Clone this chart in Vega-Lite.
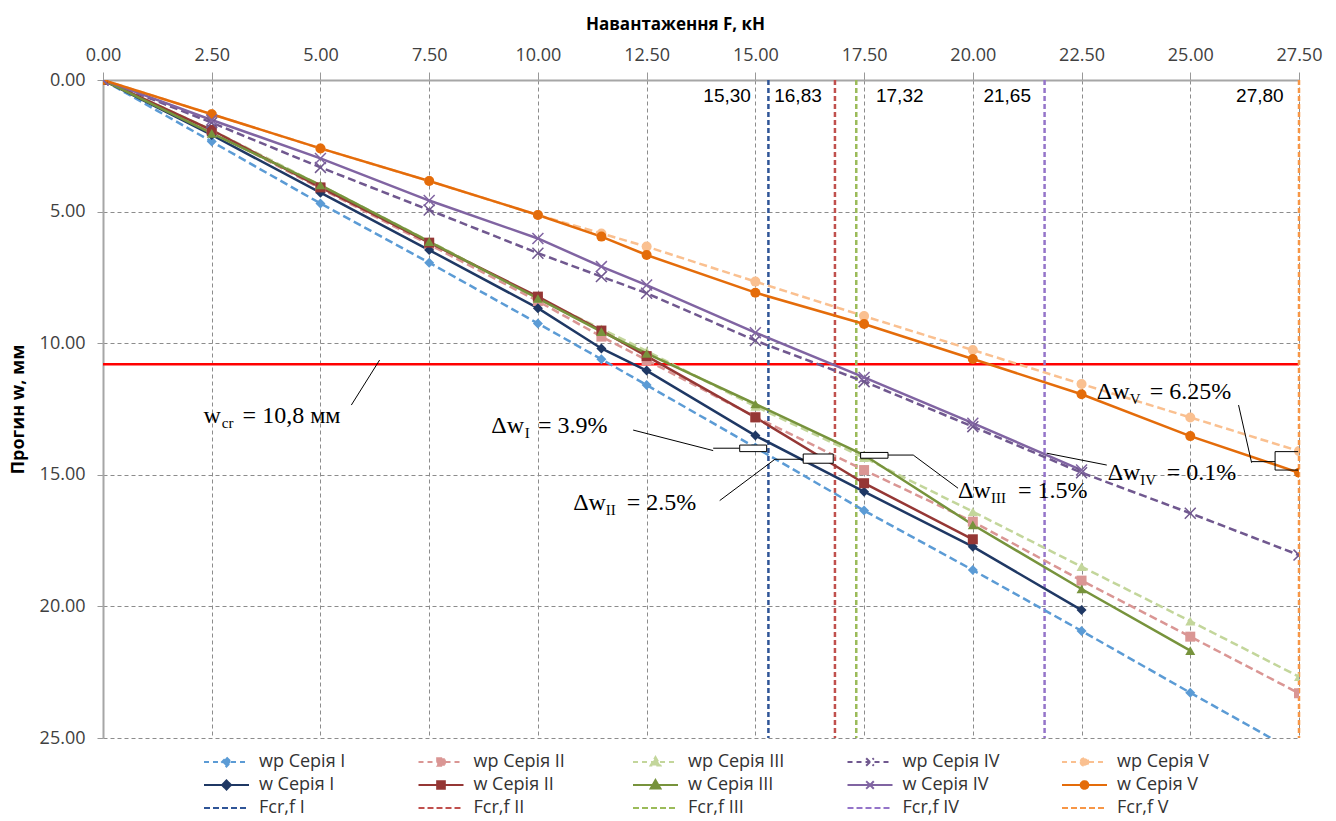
{
  "$schema": "https://vega.github.io/schema/vega-lite/v6.json",
  "width": 1196,
  "height": 658,
  "autosize": {"type": "none"},
  "padding": {"left": 103, "top": 80, "right": 37, "bottom": 83},
  "background": "white",
  "config": {"view": {"stroke": null}, "font": "Open Sans"},
  "datasets": {
    "wcr": [{"w": 10.8}],
    "fcr": [
      {"series": "Fcr,f I", "F": 15.30},
      {"series": "Fcr,f II", "F": 16.83},
      {"series": "Fcr,f III", "F": 17.32},
      {"series": "Fcr,f IV", "F": 21.65},
      {"series": "Fcr,f V", "F": 27.80}
    ],
    "fcrLabels": [
      {"F": 14.35, "w": 0.6, "label": "15,30"},
      {"F": 15.98, "w": 0.6, "label": "16,83"},
      {"F": 18.32, "w": 0.6, "label": "17,32"},
      {"F": 20.79, "w": 0.6, "label": "21,65"},
      {"F": 26.60, "w": 0.6, "label": "27,80"}
    ],
    "series": [
      {"series": "wp Серія I", "F": 0, "w": 0},
      {"series": "wp Серія I", "F": 2.5, "w": 2.34},
      {"series": "wp Серія I", "F": 5, "w": 4.69},
      {"series": "wp Серія I", "F": 7.5, "w": 6.94},
      {"series": "wp Серія I", "F": 10, "w": 9.25},
      {"series": "wp Серія I", "F": 11.46, "w": 10.61},
      {"series": "wp Серія I", "F": 12.5, "w": 11.59},
      {"series": "wp Серія I", "F": 15, "w": 13.96},
      {"series": "wp Серія I", "F": 17.5, "w": 16.36},
      {"series": "wp Серія I", "F": 20, "w": 18.62},
      {"series": "wp Серія I", "F": 22.5, "w": 20.93},
      {"series": "wp Серія I", "F": 25, "w": 23.28},
      {"series": "wp Серія I", "F": 27.5, "w": 25.6},
      {"series": "wp Серія II", "F": 0, "w": 0},
      {"series": "wp Серія II", "F": 2.5, "w": 1.95},
      {"series": "wp Серія II", "F": 5, "w": 4.12},
      {"series": "wp Серія II", "F": 7.5, "w": 6.25},
      {"series": "wp Серія II", "F": 10, "w": 8.4},
      {"series": "wp Серія II", "F": 11.46, "w": 9.75},
      {"series": "wp Серія II", "F": 12.5, "w": 10.64},
      {"series": "wp Серія II", "F": 15, "w": 12.8},
      {"series": "wp Серія II", "F": 17.5, "w": 14.82},
      {"series": "wp Серія II", "F": 20, "w": 16.78},
      {"series": "wp Серія II", "F": 22.5, "w": 19.02},
      {"series": "wp Серія II", "F": 25, "w": 21.15},
      {"series": "wp Серія II", "F": 27.5, "w": 23.3},
      {"series": "wp Серія III", "F": 0, "w": 0},
      {"series": "wp Серія III", "F": 2.5, "w": 1.9},
      {"series": "wp Серія III", "F": 5, "w": 4.0},
      {"series": "wp Серія III", "F": 7.5, "w": 6.12},
      {"series": "wp Серія III", "F": 10, "w": 8.3},
      {"series": "wp Серія III", "F": 11.46, "w": 9.45},
      {"series": "wp Серія III", "F": 12.5, "w": 10.3},
      {"series": "wp Серія III", "F": 15, "w": 12.4},
      {"series": "wp Серія III", "F": 17.5, "w": 14.35},
      {"series": "wp Серія III", "F": 20, "w": 16.4},
      {"series": "wp Серія III", "F": 22.5, "w": 18.49},
      {"series": "wp Серія III", "F": 25, "w": 20.56},
      {"series": "wp Серія III", "F": 27.5, "w": 22.67},
      {"series": "wp Серія IV", "F": 0, "w": 0},
      {"series": "wp Серія IV", "F": 2.5, "w": 1.62},
      {"series": "wp Серія IV", "F": 5, "w": 3.32},
      {"series": "wp Серія IV", "F": 7.5, "w": 4.94},
      {"series": "wp Серія IV", "F": 10, "w": 6.58},
      {"series": "wp Серія IV", "F": 11.46, "w": 7.47},
      {"series": "wp Серія IV", "F": 12.5, "w": 8.1},
      {"series": "wp Серія IV", "F": 15, "w": 9.9},
      {"series": "wp Серія IV", "F": 17.5, "w": 11.46},
      {"series": "wp Серія IV", "F": 20, "w": 13.17},
      {"series": "wp Серія IV", "F": 22.5, "w": 14.92},
      {"series": "wp Серія IV", "F": 25, "w": 16.46},
      {"series": "wp Серія IV", "F": 27.5, "w": 18.05},
      {"series": "wp Серія V", "F": 0, "w": 0},
      {"series": "wp Серія V", "F": 2.5, "w": 1.3},
      {"series": "wp Серія V", "F": 5, "w": 2.6},
      {"series": "wp Серія V", "F": 7.5, "w": 3.84},
      {"series": "wp Серія V", "F": 10, "w": 5.13},
      {"series": "wp Серія V", "F": 11.46, "w": 5.83},
      {"series": "wp Серія V", "F": 12.5, "w": 6.33},
      {"series": "wp Серія V", "F": 15, "w": 7.66},
      {"series": "wp Серія V", "F": 17.5, "w": 8.97},
      {"series": "wp Серія V", "F": 20, "w": 10.26},
      {"series": "wp Серія V", "F": 22.5, "w": 11.55},
      {"series": "wp Серія V", "F": 25, "w": 12.82},
      {"series": "wp Серія V", "F": 27.5, "w": 14.1},
      {"series": "w Серія I", "F": 0, "w": 0},
      {"series": "w Серія I", "F": 2.5, "w": 2.09},
      {"series": "w Серія I", "F": 5, "w": 4.28},
      {"series": "w Серія I", "F": 7.5, "w": 6.46},
      {"series": "w Серія I", "F": 10, "w": 8.67},
      {"series": "w Серія I", "F": 11.46, "w": 10.2},
      {"series": "w Серія I", "F": 12.5, "w": 11.04},
      {"series": "w Серія I", "F": 15, "w": 13.51},
      {"series": "w Серія I", "F": 17.5, "w": 15.64},
      {"series": "w Серія I", "F": 20, "w": 17.73},
      {"series": "w Серія I", "F": 22.5, "w": 20.14},
      {"series": "w Серія II", "F": 0, "w": 0},
      {"series": "w Серія II", "F": 2.5, "w": 1.9},
      {"series": "w Серія II", "F": 5, "w": 4.08},
      {"series": "w Серія II", "F": 7.5, "w": 6.18},
      {"series": "w Серія II", "F": 10, "w": 8.23},
      {"series": "w Серія II", "F": 11.46, "w": 9.52},
      {"series": "w Серія II", "F": 12.5, "w": 10.49},
      {"series": "w Серія II", "F": 15, "w": 12.82},
      {"series": "w Серія II", "F": 17.5, "w": 15.32},
      {"series": "w Серія II", "F": 20, "w": 17.45},
      {"series": "w Серія III", "F": 0, "w": 0},
      {"series": "w Серія III", "F": 2.5, "w": 2.03},
      {"series": "w Серія III", "F": 5, "w": 3.99},
      {"series": "w Серія III", "F": 7.5, "w": 6.14},
      {"series": "w Серія III", "F": 10, "w": 8.3},
      {"series": "w Серія III", "F": 11.46, "w": 9.56},
      {"series": "w Серія III", "F": 12.5, "w": 10.39},
      {"series": "w Серія III", "F": 15, "w": 12.31},
      {"series": "w Серія III", "F": 17.5, "w": 14.25},
      {"series": "w Серія III", "F": 20, "w": 16.9},
      {"series": "w Серія III", "F": 22.5, "w": 19.34},
      {"series": "w Серія III", "F": 25, "w": 21.68},
      {"series": "w Серія IV", "F": 0, "w": 0},
      {"series": "w Серія IV", "F": 2.5, "w": 1.52},
      {"series": "w Серія IV", "F": 5, "w": 2.98},
      {"series": "w Серія IV", "F": 7.5, "w": 4.58},
      {"series": "w Серія IV", "F": 10, "w": 6.02},
      {"series": "w Серія IV", "F": 11.46, "w": 7.09},
      {"series": "w Серія IV", "F": 12.5, "w": 7.79},
      {"series": "w Серія IV", "F": 15, "w": 9.6},
      {"series": "w Серія IV", "F": 17.5, "w": 11.3},
      {"series": "w Серія IV", "F": 20, "w": 13.04},
      {"series": "w Серія IV", "F": 22.5, "w": 14.82},
      {"series": "w Серія V", "F": 0, "w": 0},
      {"series": "w Серія V", "F": 2.5, "w": 1.3},
      {"series": "w Серія V", "F": 5, "w": 2.6},
      {"series": "w Серія V", "F": 7.5, "w": 3.84},
      {"series": "w Серія V", "F": 10, "w": 5.13},
      {"series": "w Серія V", "F": 11.46, "w": 5.95},
      {"series": "w Серія V", "F": 12.5, "w": 6.65},
      {"series": "w Серія V", "F": 15, "w": 8.08},
      {"series": "w Серія V", "F": 17.5, "w": 9.27},
      {"series": "w Серія V", "F": 20, "w": 10.6},
      {"series": "w Серія V", "F": 22.5, "w": 11.94},
      {"series": "w Серія V", "F": 25, "w": 13.53},
      {"series": "w Серія V", "F": 27.5, "w": 14.92}
    ],
    "leaders": [
      {"F": 5.71, "w": 12.35, "F2": 6.36, "w2": 10.64},
      {"F": 12.19, "w": 13.30, "F2": 14.03, "w2": 14.08},
      {"F": 14.03, "w": 13.99, "F2": 14.64, "w2": 13.99},
      {"F": 14.18, "w": 15.98, "F2": 15.45, "w2": 14.41},
      {"F": 15.45, "w": 14.41, "F2": 16.10, "w2": 14.41},
      {"F": 18.05, "w": 14.25, "F2": 18.63, "w2": 14.25},
      {"F": 18.63, "w": 14.25, "F2": 19.66, "w2": 15.51},
      {"F": 21.70, "w": 14.18, "F2": 23.08, "w2": 14.63},
      {"F": 26.11, "w": 12.35, "F2": 26.41, "w2": 14.54},
      {"F": 26.41, "w": 14.50, "F2": 26.95, "w2": 14.50},
      {"F": 26.95, "w": 14.12, "F2": 26.95, "w2": 14.82},
      {"F": 26.95, "w": 14.12, "F2": 27.48, "w2": 14.12},
      {"F": 26.95, "w": 14.82, "F2": 27.48, "w2": 14.82}
    ],
    "braces": [
      {"F": 14.64, "F2": 15.26, "w": 13.87, "w2": 14.12},
      {"F": 16.10, "F2": 16.79, "w": 14.21, "w2": 14.56},
      {"F": 17.42, "F2": 18.05, "w": 14.15, "w2": 14.37}
    ],
    "annoMain": [
      {"F": 2.31, "w": 13.02, "t": "w"},
      {"F": 3.21, "w": 13.02, "t": "= 10,8 мм"},
      {"F": 8.93, "w": 13.40, "t": "Δw"},
      {"F": 10.0, "w": 13.40, "t": "= 3.9%"},
      {"F": 10.81, "w": 16.34, "t": "Δw"},
      {"F": 12.04, "w": 16.34, "t": "= 2.5%"},
      {"F": 19.66, "w": 15.89, "t": "Δw"},
      {"F": 21.04, "w": 15.89, "t": "= 1.5%"},
      {"F": 23.10, "w": 15.20, "t": "Δw"},
      {"F": 24.46, "w": 15.20, "t": "= 0.1%"},
      {"F": 22.85, "w": 12.13, "t": "Δw"},
      {"F": 24.07, "w": 12.13, "t": "= 6.25%"}
    ],
    "annoSub": [
      {"F": 2.73, "w": 13.22, "t": "cr"},
      {"F": 9.70, "w": 13.60, "t": "I"},
      {"F": 11.56, "w": 16.53, "t": "II"},
      {"F": 20.42, "w": 16.08, "t": "III"},
      {"F": 23.85, "w": 15.39, "t": "IV"},
      {"F": 23.61, "w": 12.32, "t": "V"}
    ]
  },
  "layer": [
    {
      "data": {"name": "wcr"},
      "mark": {"type": "rule", "color": "#FF0000", "strokeWidth": 2.5},
      "encoding": {
        "y": {
          "field": "w", "type": "quantitative",
          "scale": {"domain": [0, 25], "reverse": true, "nice": false, "zero": false},
          "axis": {
            "orient": "left", "values": [0, 5, 10, 15, 20, 25], "format": ".2f",
            "title": "Прогин w, мм", "titleFont": "Open Sans", "titleFontWeight": "bold", "titleFontSize": 18, "titleColor": "#000000", "titlePadding": 12,
            "labelFont": "Open Sans", "labelFontSize": 18, "labelColor": "#404040", "labelPadding": 12, "labelFlush": false, "labelOverlap": false,
            "tickSize": 6, "tickColor": "#999999", "domainColor": "#A6A6A6", "domainWidth": 2,
            "grid": true, "gridColor": "#8C8C8C", "gridDash": [4, 3], "gridWidth": 1
          }
        }
      }
    },
    {
      "data": {"name": "fcr"},
      "mark": {"type": "rule", "strokeWidth": 2.5, "strokeDash": [5, 3]},
      "encoding": {
        "x": {
          "field": "F", "type": "quantitative",
          "scale": {"domain": [0, 27.5], "nice": false, "zero": false, "clamp": true},
          "axis": {
            "orient": "top", "values": [0, 2.5, 5, 7.5, 10, 12.5, 15, 17.5, 20, 22.5, 25, 27.5], "format": ".2f",
            "title": "Навантаження F, кН", "titleFont": "Open Sans", "titleFontWeight": "bold", "titleFontSize": 17, "titleColor": "#000000", "titlePadding": 13, "titleX": 572,
            "labelFont": "Open Sans", "labelFontSize": 18, "labelColor": "#404040", "labelPadding": 8, "labelFlush": false, "labelOverlap": false,
            "tickSize": 8, "tickColor": "#999999", "domainColor": "#A6A6A6", "domainWidth": 2,
            "grid": true, "gridColor": "#8C8C8C", "gridDash": [4, 3], "gridWidth": 1
          }
        },
        "color": {
          "field": "series", "type": "nominal",
          "scale": {
            "domain": ["wp Серія I", "wp Серія II", "wp Серія III", "wp Серія IV", "wp Серія V", "w Серія I", "w Серія II", "w Серія III", "w Серія IV", "w Серія V", "Fcr,f I", "Fcr,f II", "Fcr,f III", "Fcr,f IV", "Fcr,f V"],
            "range": ["#5B9BD5", "#DA9694", "#C3D69B", "#70588F", "#FAC090", "#1F3864", "#953735", "#77933C", "#8064A2", "#E46C0A", "#2F5597", "#C0504D", "#9BBB59", "#9474C9", "#F79646"]
          },
          "legend": {
            "title": null, "orient": "none", "legendX": 100, "legendY": 671, "direction": "horizontal", "columns": 5, "padding": 0,
            "symbolSize": 2025, "symbolStrokeWidth": 2, "symbolOffset": 0,
            "labelFont": "Open Sans", "labelFontSize": 18, "labelColor": "#333333", "labelOffset": 9, "labelLimit": 250,
            "columnPadding": 60.5, "rowPadding": 1, "clipHeight": 22, "gridAlign": "all",
            "encode": {
              "symbols": {
                "update": {
                  "shape": {"signal": "split(datum.value,' ')[0]==='Fcr,f' ? 'M-1,0L1,0' : peek(split(datum.value,' '))==='I' ? 'M-1,0L1,0M0,-0.2L0.2,0L0,0.2L-0.2,0Z' : peek(split(datum.value,' '))==='II' ? 'M-1,0L1,0M-0.17,-0.17L0.17,-0.17L0.17,0.17L-0.17,0.17Z' : peek(split(datum.value,' '))==='III' ? 'M-1,0L1,0M0,-0.22L0.22,0.16L-0.22,0.16Z' : peek(split(datum.value,' '))==='IV' ? 'M-1,0L1,0M-0.17,-0.17L0.17,0.17M-0.17,0.17L0.17,-0.17' : 'M-1,0L1,0M-0.17,0A0.17,0.17,0,1,0,0.17,0A0.17,0.17,0,1,0,-0.17,0Z'"},
                  "fill": {"signal": "scale('color', datum.value)"},
                  "stroke": {"signal": "scale('color', datum.value)"},
                  "strokeDash": {"signal": "split(datum.value,' ')[0]==='wp' ? [5,4] : split(datum.value,' ')[0]==='w' ? [1,0] : [6,3]"},
                  "strokeWidth": {"value": 2},
                  "opacity": {"value": 1}
                }
              }
            }
          }
        }
      }
    },
    {
      "data": {"name": "series"},
      "transform": [{"filter": "indexof(datum.series, 'wp ') === 0"}],
      "mark": {"type": "line", "strokeWidth": 2.5, "strokeDash": [8, 4], "clip": true},
      "encoding": {
        "x": {"field": "F", "type": "quantitative"},
        "y": {"field": "w", "type": "quantitative"},
        "color": {"field": "series", "type": "nominal"}
      }
    },
    {
      "data": {"name": "series"},
      "transform": [{"filter": "indexof(datum.series, 'w ') === 0"}],
      "mark": {"type": "line", "strokeWidth": 2.5, "clip": true},
      "encoding": {
        "x": {"field": "F", "type": "quantitative"},
        "y": {"field": "w", "type": "quantitative"},
        "color": {"field": "series", "type": "nominal"}
      }
    },
    {
      "data": {"name": "series"},
      "transform": [{"filter": "indexof(datum.series, 'IV') < 0"}],
      "mark": {"type": "point", "filled": true, "size": 100, "opacity": 1, "clip": true},
      "encoding": {
        "x": {"field": "F", "type": "quantitative"},
        "y": {"field": "w", "type": "quantitative"},
        "color": {"field": "series", "type": "nominal"},
        "shape": {
          "field": "series", "type": "nominal",
          "scale": {
            "domain": ["wp Серія I", "w Серія I", "wp Серія II", "w Серія II", "wp Серія III", "w Серія III", "wp Серія V", "w Серія V"],
            "range": ["diamond", "diamond", "square", "square", "triangle-up", "triangle-up", "circle", "circle"]
          },
          "legend": null
        }
      }
    },
    {
      "data": {"name": "series"},
      "transform": [{"filter": "indexof(datum.series, 'IV') >= 0"}],
      "mark": {"type": "point", "filled": false, "size": 120, "strokeWidth": 1.5, "opacity": 1, "shape": "M-1,-1L1,1M-1,1L1,-1", "clip": true},
      "encoding": {
        "x": {"field": "F", "type": "quantitative"},
        "y": {"field": "w", "type": "quantitative"},
        "color": {"field": "series", "type": "nominal"}
      }
    },
    {
      "data": {"name": "leaders"},
      "mark": {"type": "rule", "color": "#000000", "strokeWidth": 1},
      "encoding": {
        "x": {"field": "F", "type": "quantitative"},
        "y": {"field": "w", "type": "quantitative"},
        "x2": {"field": "F2"},
        "y2": {"field": "w2"}
      }
    },
    {
      "data": {"name": "braces"},
      "mark": {"type": "rect", "fill": "#FFFFFF", "stroke": "#000000", "strokeWidth": 1},
      "encoding": {
        "x": {"field": "F", "type": "quantitative"},
        "x2": {"field": "F2"},
        "y": {"field": "w", "type": "quantitative"},
        "y2": {"field": "w2"}
      }
    },
    {
      "data": {"name": "fcrLabels"},
      "mark": {"type": "text", "font": "Liberation Sans", "fontSize": 19, "color": "#000000", "align": "center", "baseline": "middle"},
      "encoding": {
        "x": {"field": "F", "type": "quantitative"},
        "y": {"field": "w", "type": "quantitative"},
        "text": {"field": "label"}
      }
    },
    {
      "data": {"name": "annoMain"},
      "mark": {"type": "text", "font": "Liberation Serif", "fontSize": 24, "color": "#000000", "align": "left", "baseline": "alphabetic"},
      "encoding": {
        "x": {"field": "F", "type": "quantitative"},
        "y": {"field": "w", "type": "quantitative"},
        "text": {"field": "t"}
      }
    },
    {
      "data": {"name": "annoSub"},
      "mark": {"type": "text", "font": "Liberation Serif", "fontSize": 15, "color": "#000000", "align": "left", "baseline": "alphabetic"},
      "encoding": {
        "x": {"field": "F", "type": "quantitative"},
        "y": {"field": "w", "type": "quantitative"},
        "text": {"field": "t"}
      }
    }
  ]
}
